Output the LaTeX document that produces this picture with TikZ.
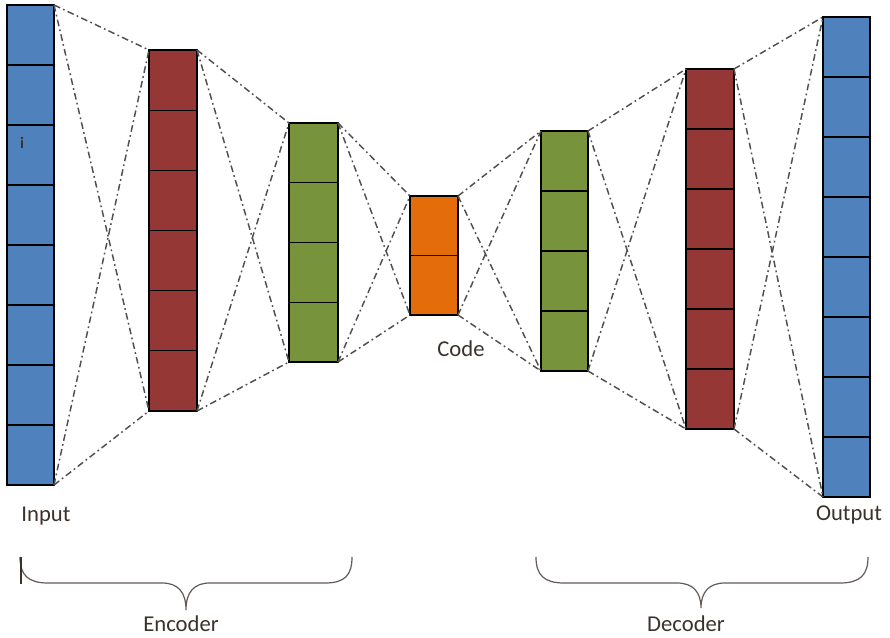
\documentclass[tikz,border=0pt]{standalone}
\usepackage{fontspec}
\setmainfont{Carlito}
\usetikzlibrary{calc}
\definecolor{lblue}{RGB}{79,129,189}
\definecolor{lred}{RGB}{149,55,53}
\definecolor{lgreen}{RGB}{119,147,60}
\definecolor{lorange}{RGB}{228,108,10}
\definecolor{txt}{RGB}{60,50,45}
\definecolor{conn}{RGB}{80,80,80}
\newcommand\mklayer[7]{%
  \node[layerbox, fill=#7, minimum width={(#4-#2)*0.75pt}, minimum height={(#5-#3)*0.75pt}]
    (#1) at ({(#2+#4)/2},{(#3+#5)/2}) {};
  \foreach \k in {1,...,#6} {
    \pgfmathsetmacro\fr{\k/(#6+1)}
    \draw[cellline] ($(#1.north west)!\fr!(#1.south west)$) -- ($(#1.north east)!\fr!(#1.south east)$);
  }
}
\newcommand\linkpair[2]{%
  \draw[dashdotline] (#1.north east) -- (#2.north west);
  \draw[dashdotline] (#1.south east) -- (#2.south west);
  \draw[dashdotline] (#1.north east) -- (#2.south west);
  \draw[dashdotline] (#1.south east) -- (#2.north west);
}
\begin{document}
\begin{tikzpicture}[x=0.75pt,y=-0.75pt,
  layerbox/.style={draw=black, line width=0.9pt, inner sep=0pt, outer sep=0pt},
  cellline/.style={draw=black, line width=0.9pt},
  dashdotline/.style={draw=conn, line width=1.1pt, dash pattern=on 5pt off 2.5pt on 1.3pt off 2.5pt},
  bracestyle/.style={draw=txt!80, line width=0.9pt},
  lbl/.style={text=txt, font=\fontsize{17}{19}\selectfont, inner sep=0pt}]
\useasboundingbox (0,0) rectangle (890,638);
\fill[white] (0,0) rectangle (890,638);
% layers
\mklayer{inp}{7}{5}{54}{485}{7}{lblue}
\mklayer{enA}{149}{50}{197}{411}{5}{lred}
\mklayer{enB}{289}{123}{338}{362}{3}{lgreen}
\mklayer{code}{410}{196}{458}{315}{1}{lorange}
\mklayer{deB}{541}{131}{588}{371}{3}{lgreen}
\mklayer{deA}{686}{69}{734}{429}{5}{lred}
\mklayer{outp}{823}{17}{870}{497}{7}{lblue}
% connectors
\linkpair{inp}{enA}
\linkpair{enA}{enB}
\linkpair{enB}{code}
\linkpair{code}{deB}
\linkpair{deB}{deA}
\linkpair{deA}{outp}
% labels
\node[lbl] (lin) at (46,516) {Input};
\node[lbl] (lcode) at (461,349) {Code};
\node[lbl] (lout) at (849,515) {Output};
\node[lbl] (lenc) at (181,624) {Encoder};
\node[lbl] (ldec) at (686,624) {Decoder};
\node[text=txt, font=\fontsize{12}{13}\selectfont\bfseries, inner sep=0pt] (cur) at (22,143) {i};
% braces
\draw[bracestyle] (20,557) .. controls (20,575) and (28,583) .. (48,583) -- (162,583)
  .. controls (178,583) and (186,592) .. (186,610)
  .. controls (186,592) and (194,583) .. (210,583) -- (325,583)
  .. controls (345,583) and (352,575) .. (352,557);
\draw[txt, line width=1.3pt] (21,557) -- (21,584);
\draw[bracestyle] (536,557) .. controls (536,575) and (544,583) .. (564,583) -- (677,583)
  .. controls (693,583) and (701,592) .. (701,608)
  .. controls (701,592) and (709,583) .. (725,583) -- (840,583)
  .. controls (860,583) and (868,575) .. (868,557);
\end{tikzpicture}
\end{document}
